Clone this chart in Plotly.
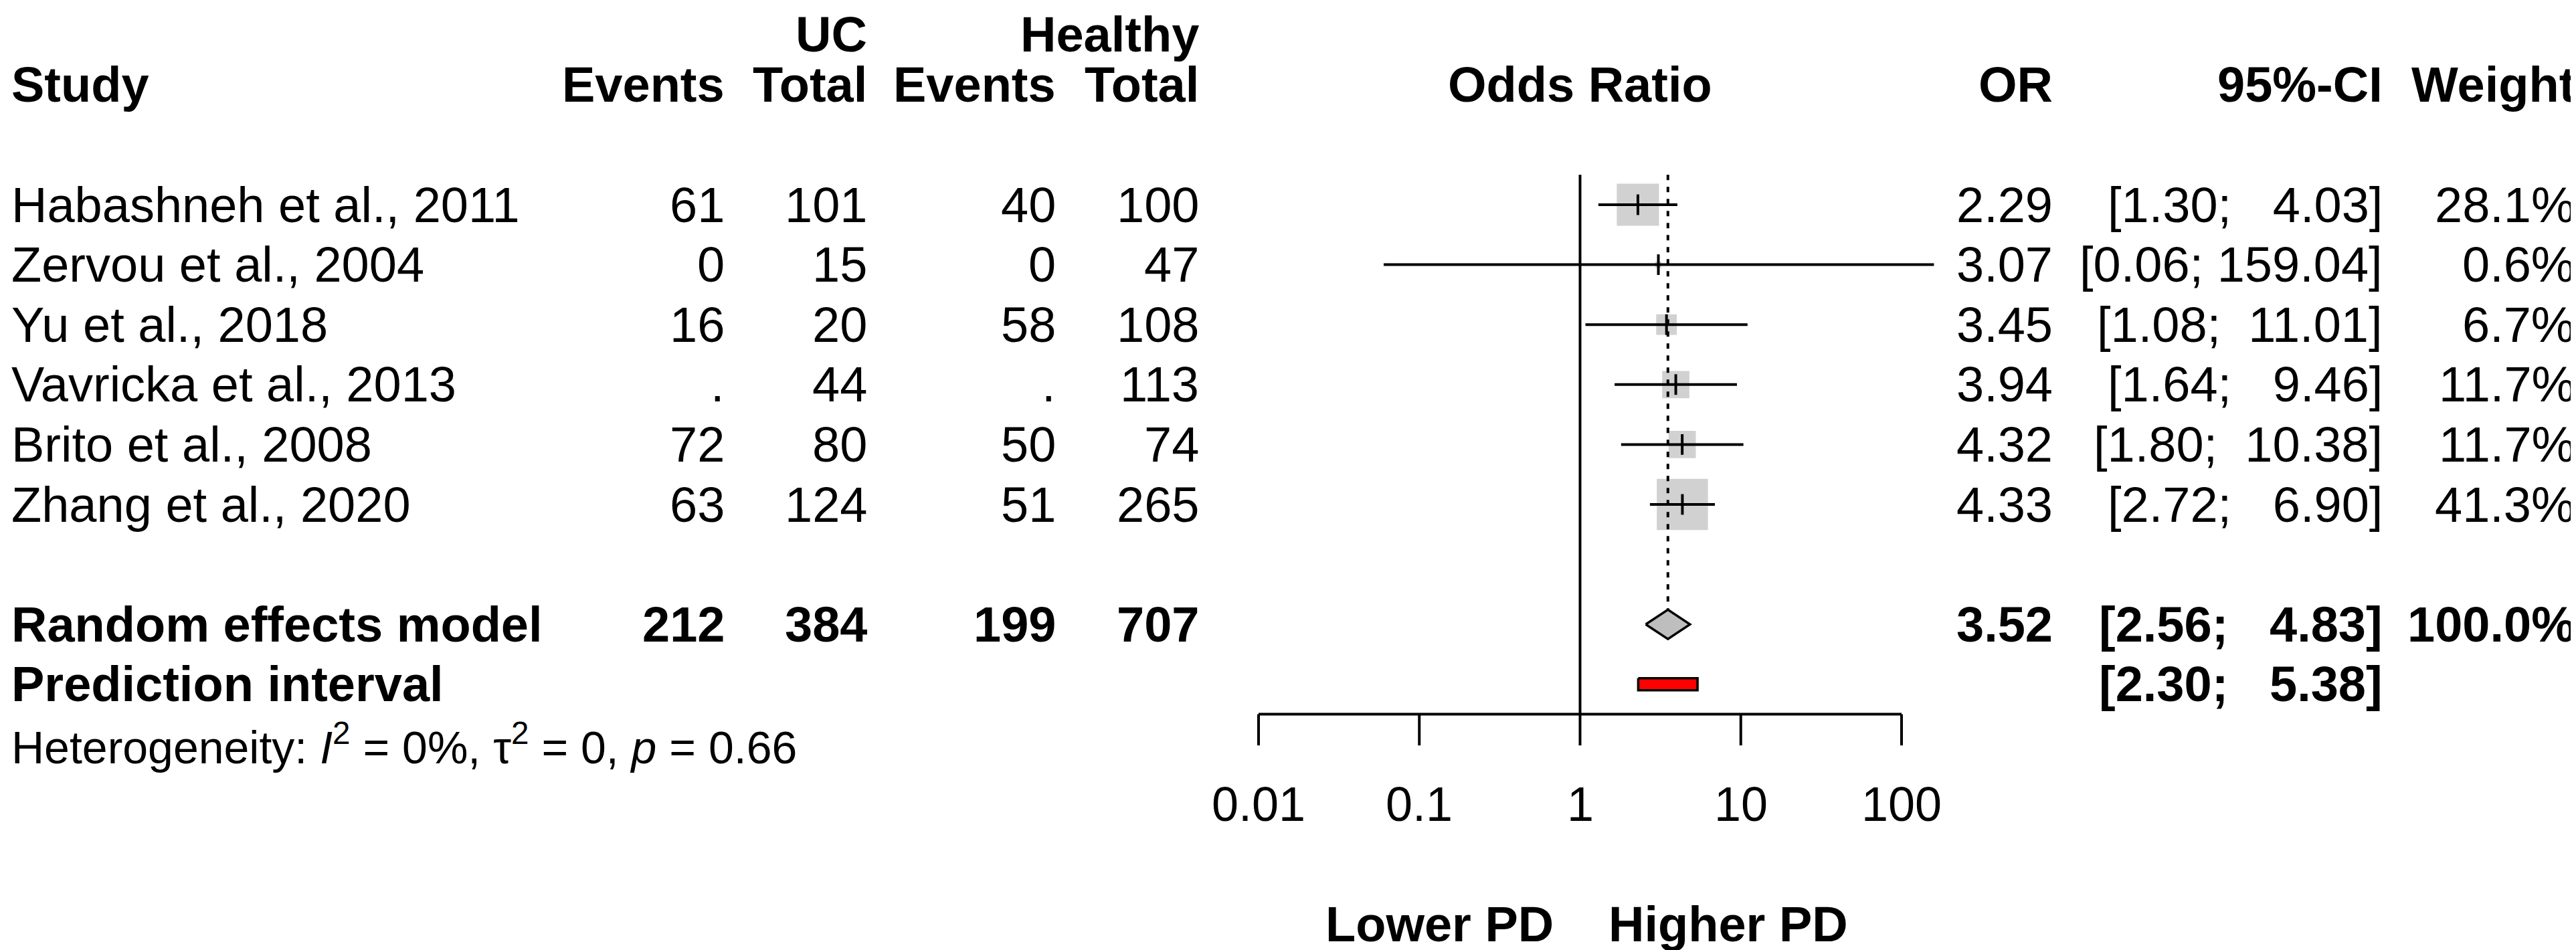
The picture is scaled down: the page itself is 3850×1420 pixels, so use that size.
"""
Forest plot: UC vs healthy controls, odds ratios (random effects model).
"""

import numpy as np
import plotly.graph_objects as go

# ---- data -------------------------------------------------------------
studies = [
    "Habashneh et al., 2011",
    "Zervou et al., 2004",
    "Yu et al., 2018",
    "Vavricka et al., 2013",
    "Brito et al., 2008",
    "Zhang et al., 2020",
]
uc_events = [61, 0, 16, None, 72, 63]
uc_total = [101, 15, 20, 44, 80, 124]
hc_events = [40, 0, 58, None, 50, 51]
hc_total = [100, 47, 108, 113, 74, 265]
odds_ratio = [2.29, 3.07, 3.45, 3.94, 4.32, 4.33]
ci_low = [1.30, 0.06, 1.08, 1.64, 1.80, 2.72]
ci_high = [4.03, 159.04, 11.01, 9.46, 10.38, 6.90]
weights = [28.1, 0.6, 6.7, 11.7, 11.7, 41.3]

pooled_label = "Random effects model"
pooled_totals = [212, 384, 199, 707]
pooled_or = 3.52
pooled_low = 2.56
pooled_high = 4.83
pooled_weight = 100.0

pred_label = "Prediction interval"
pred_low = 2.30
pred_high = 5.38

heterogeneity = "Heterogeneity: <i>I</i><sup>2</sup> = 0%, \u03c4<sup>2</sup> = 0, <i>p</i> = 0.66"

tick_vals = [0.01, 0.1, 1, 10, 100]
tick_text = ["0.01", "0.1", "1", "10", "100"]
favours = ["Lower PD", "Higher PD"]

# ---- geometry -----------------------------------------------------------
W, H = 3850, 1420
FONT = "Liberation Sans, Arial, sans-serif"
FS = 74
ROW0 = 298.0      # pixel y of the first study row
ROW_H = 89.6      # pixel height of one row
X_ONE = 2353.5    # pixel x of OR = 1
DECADE = 240.25   # pixels per log10 unit
FX0, FX1 = 1800, 2950  # pixel span of the forest panel

y_top = -ROW0 / ROW_H
y_bot = (H - ROW0) / ROW_H
log_lo = (FX0 - X_ONE) / DECADE
log_hi = (FX1 - X_ONE) / DECADE

rows = list(range(len(studies)))
ROW_POOLED = len(studies) + 1
ROW_PRED = ROW_POOLED + 1
ROW_HET = ROW_PRED + 1
ROW_AXIS = ROW_PRED + 0.5
ROW_TICKLAB = ROW_HET + 1
ROW_FAV = ROW_TICKLAB + 2


def px(x):
    return x / W


def nb(s):
    return s.replace(" ", "\u00a0")


def fmt_ci(lo, hi):
    return nb(f"[{lo:.2f}; {hi:6.2f}]")


def fmt_n(v):
    return "." if v is None else str(v)


fig = go.Figure()

# study squares (area proportional to weight)
fig.add_trace(go.Scatter(
    x=odds_ratio, y=rows, mode="markers",
    marker=dict(symbol="square", size=[11.9 * np.sqrt(w) for w in weights],
                color="#BEBEBE", line=dict(width=0)),
    hoverinfo="skip",
))

# confidence intervals
ci_x, ci_y = [], []
for lo, hi, r in zip(ci_low, ci_high, rows):
    ci_x += [lo, hi, None]
    ci_y += [r, r, None]
fig.add_trace(go.Scatter(x=ci_x, y=ci_y, mode="lines",
                         line=dict(color="black", width=4), hoverinfo="skip"))

# point estimate ticks
fig.add_trace(go.Scatter(
    x=odds_ratio, y=rows, mode="markers",
    marker=dict(symbol="line-ns", size=22, line=dict(color="black", width=4)),
    hoverinfo="skip",
))

# reference line at OR = 1
fig.add_trace(go.Scatter(x=[1, 1], y=[-0.5, ROW_AXIS], mode="lines",
                         line=dict(color="black", width=4), hoverinfo="skip"))

# dotted line at pooled estimate
half_d = 0.245
fig.add_trace(go.Scatter(x=[pooled_or, pooled_or], y=[-0.5, ROW_POOLED - half_d],
                         mode="lines", line=dict(color="black", width=4, dash="8px,10px"),
                         hoverinfo="skip"))

# pooled diamond
fig.add_trace(go.Scatter(
    x=[pooled_low, pooled_or, pooled_high, pooled_or, pooled_low],
    y=[ROW_POOLED, ROW_POOLED - half_d, ROW_POOLED, ROW_POOLED + half_d, ROW_POOLED],
    mode="lines", fill="toself", fillcolor="#BEBEBE",
    line=dict(color="black", width=3.5), hoverinfo="skip",
))

# prediction interval bar
half_p = 0.1
fig.add_trace(go.Scatter(
    x=[pred_low, pred_high, pred_high, pred_low, pred_low],
    y=[ROW_PRED - half_p, ROW_PRED - half_p, ROW_PRED + half_p, ROW_PRED + half_p, ROW_PRED - half_p],
    mode="lines", fill="toself", fillcolor="#FF0000",
    line=dict(color="black", width=3.5), hoverinfo="skip",
))

# x axis line and ticks
ax_x = [tick_vals[0], tick_vals[-1], None]
ax_y = [ROW_AXIS, ROW_AXIS, None]
for t in tick_vals:
    ax_x += [t, t, None]
    ax_y += [ROW_AXIS, ROW_AXIS + 0.52, None]
fig.add_trace(go.Scatter(x=ax_x, y=ax_y, mode="lines",
                         line=dict(color="black", width=4), hoverinfo="skip"))

# ---- text ---------------------------------------------------------------
ann = []


def text(x, y, s, anchor="right", bold=False, xref="paper", size=FS, xshift=0,
         yanchor="middle"):
    ann.append(dict(
        x=x, y=y, xref=xref, yref="y", text=f"<b>{s}</b>" if bold else s,
        showarrow=False, xanchor=anchor, yanchor=yanchor, xshift=xshift,
        font=dict(family=FONT, size=size, color="black"),
    ))


# column x positions (pixels, right edges unless noted)
X_STUDY = 7
X_UC_EV, X_UC_TOT = 1077, 1290
X_HC_EV, X_HC_TOT = 1572, 1786
X_OR, X_CI, X_W = 3062, 3555, 3843

# headers (group labels sit flush with the top edge)
text(px(X_UC_TOT), y_top, "UC", bold=True, yanchor="top")
text(px(X_HC_TOT), y_top, "Healthy", bold=True, yanchor="top")
text(px(X_STUDY), -2, "Study", anchor="left", bold=True)
text(px(X_UC_EV), -2, "Events", bold=True)
text(px(X_UC_TOT), -2, "Total", bold=True)
text(px(X_HC_EV), -2, "Events", bold=True)
text(px(X_HC_TOT), -2, "Total", bold=True)
text(np.log10(1), -2, "Odds Ratio", anchor="center", bold=True, xref="x")
text(px(X_OR), -2, "OR", bold=True)
text(px(X_CI), -2, "95%-CI", bold=True)
text(px(X_W), -2, "Weight", bold=True)

# study rows
for i, r in enumerate(rows):
    text(px(X_STUDY), r, studies[i], anchor="left")
    text(px(X_UC_EV), r, fmt_n(uc_events[i]))
    text(px(X_UC_TOT), r, fmt_n(uc_total[i]))
    text(px(X_HC_EV), r, fmt_n(hc_events[i]))
    text(px(X_HC_TOT), r, fmt_n(hc_total[i]))
    text(px(X_OR), r, f"{odds_ratio[i]:.2f}")
    text(px(X_CI), r, fmt_ci(ci_low[i], ci_high[i]))
    text(px(X_W), r, f"{weights[i]:.1f}%")

# pooled rows
text(px(X_STUDY), ROW_POOLED, pooled_label, anchor="left", bold=True)
for xp, v in zip([X_UC_EV, X_UC_TOT, X_HC_EV, X_HC_TOT], pooled_totals):
    text(px(xp), ROW_POOLED, str(v), bold=True)
text(px(X_OR), ROW_POOLED, f"{pooled_or:.2f}", bold=True)
text(px(X_CI), ROW_POOLED, fmt_ci(pooled_low, pooled_high), bold=True)
text(px(X_W), ROW_POOLED, f"{pooled_weight:.1f}%", bold=True)

text(px(X_STUDY), ROW_PRED, pred_label, anchor="left", bold=True)
text(px(X_CI), ROW_PRED, fmt_ci(pred_low, pred_high), bold=True)

text(px(X_STUDY), ROW_HET, heterogeneity, anchor="left", size=68)

# tick labels
for t, lab in zip(tick_vals, tick_text):
    text(np.log10(t), ROW_TICKLAB, lab, anchor="center", xref="x", size=72)

# favours labels
text(np.log10(1), ROW_FAV, favours[0], anchor="right", bold=True, xref="x", xshift=-38)
text(np.log10(1), ROW_FAV, favours[1], anchor="left", bold=True, xref="x", xshift=40)

fig.update_layout(
    width=W, height=H,
    margin=dict(l=0, r=0, t=0, b=0),
    paper_bgcolor="white", plot_bgcolor="white",
    showlegend=False,
    annotations=ann,
    xaxis=dict(type="log", range=[log_lo, log_hi], domain=[px(FX0), px(FX1)],
               visible=False, fixedrange=True),
    yaxis=dict(range=[y_bot, y_top], domain=[0, 1], visible=False, fixedrange=True),
)

fig.write_html("out.html")
